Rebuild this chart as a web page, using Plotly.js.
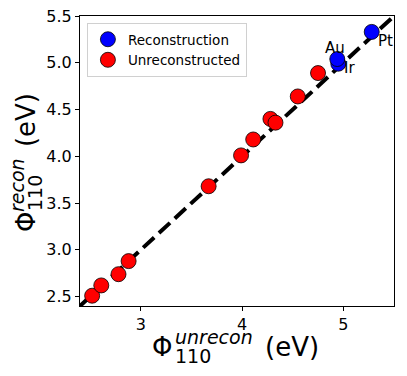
<!DOCTYPE html>
<html>
<head>
<meta charset="utf-8">
<script src="https://cdn.plot.ly/plotly-3.0.1.min.js"></script>
<style>
  html, body { margin: 0; padding: 0; background: #fff; }
  #chart { width: 407px; height: 376px; }
</style>
</head>
<body>
<div id="chart"></div>
<script>
// unreconstructed (110) work functions, eV
const unreconX = [2.52, 2.61, 2.78, 2.88, 3.67, 3.99, 4.11, 4.28, 4.33, 4.55, 4.75];
const unreconY = [2.51, 2.62, 2.74, 2.88, 3.68, 4.01, 4.18, 4.40, 4.36, 4.64, 4.89];

// reconstructed surfaces
const reconNames = ["Ir", "Au", "Pt"];
const reconX = [4.95, 4.94, 5.28];
const reconY = [4.99, 5.04, 5.33];
// label offsets in px (dx, dy up)
const labelShift = { Ir: [11, -4], Au: [-2, 11], Pt: [14, -9] };

const diag = [2.4, 5.5];

const font = "DejaVu Sans, Liberation Sans, sans-serif";

const traces = [
  {
    x: diag, y: diag, mode: "lines", showlegend: false, hoverinfo: "skip",
    line: { color: "black", width: 4, dash: "15px,6.5px" },
  },
  {
    x: reconX, y: reconY, mode: "markers", name: "Reconstruction",
    marker: { color: "#0000ff", size: 15, line: { color: "black", width: 0.8 } },
  },
  {
    x: unreconX, y: unreconY, mode: "markers", name: "Unreconstructed",
    marker: { color: "#ff0000", size: 15, line: { color: "black", width: 0.8 } },
  },
];

const annotations = reconNames.map((n, i) => ({
  x: reconX[i], y: reconY[i], xref: "x", yref: "y",
  text: n, showarrow: false,
  xshift: labelShift[n][0], yshift: labelShift[n][1],
  font: { size: 15, color: "black", family: font },
}));

// axis titles, matplotlib style stacked sub/superscripts
const big = 26, small = 19;
function txt(text, x, y, size, angle, italic) {
  return {
    xref: "paper", yref: "paper", x: x, y: y, text: italic ? "<i>" + text + "</i>" : text,
    showarrow: false, xanchor: "center", yanchor: "middle", textangle: angle || 0,
    font: { size: size, color: "black", family: font },
  };
}
annotations.push(
  txt("Φ", 0.261, -0.141, big),
  txt("unrecon", 0.427, -0.108, small, 0, true),
  txt("110", 0.360, -0.172, small),
  txt("(eV)", 0.675, -0.141, big),
  txt("Φ", -0.172, 0.290, big, -90),
  txt("recon", -0.201, 0.417, small, -90, true),
  txt("110", -0.143, 0.390, small, -90),
  txt("(eV)", -0.172, 0.641, big, -90)
);

const axisCommon = {
  range: [2.4, 5.5], showgrid: false, zeroline: false,
  showline: true, linecolor: "black", linewidth: 1, mirror: true,
  ticks: "outside", ticklen: 4, tickcolor: "black",
  tickfont: { size: 16, color: "black", family: font },
};

const layout = {
  width: 407, height: 376,
  margin: { l: 80, r: 13, t: 16, b: 70 },
  paper_bgcolor: "white", plot_bgcolor: "white",
  font: { family: font, color: "black" },
  xaxis: Object.assign({}, axisCommon, { tickvals: [3, 4, 5], ticktext: ["3", "4", "5"] }),
  yaxis: Object.assign({}, axisCommon, { dtick: 0.5, tick0: 2.5, tickformat: ".1f" }),
  legend: {
    x: 0.022, y: 0.976, xanchor: "left", yanchor: "top",
    bgcolor: "white", bordercolor: "#d0d0d0", borderwidth: 1,
    font: { size: 13.5, color: "black", family: font },
  },
  annotations: annotations,
  showlegend: true,
};

Plotly.newPlot("chart", traces, layout, { staticPlot: true });
</script>
</body>
</html>
